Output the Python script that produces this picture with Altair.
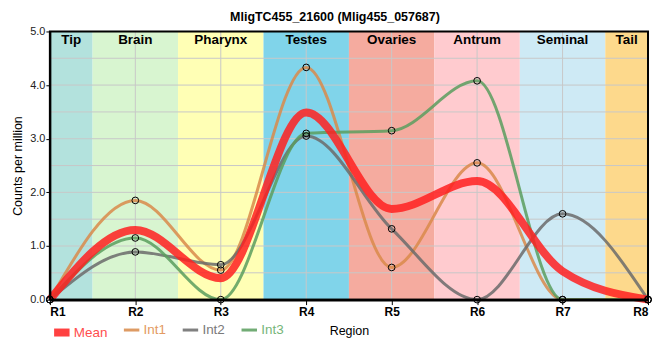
import json
import altair as alt
import pandas as pd

# ---- data ----
x_labels = ["R1", "R2", "R3", "R4", "R5", "R6", "R7", "R8"]
series_names = ["Mean", "Int1", "Int2", "Int3"]
mean_vals = [0.0, 1.30, 0.40, 3.49, 1.69, 2.21, 0.53, 0.0]
int1_vals = [0.0, 1.85, 0.55, 4.33, 0.60, 2.55, 0.0, 0.0]
int2_vals = [0.0, 0.89, 0.65, 3.05, 1.32, 0.0, 1.60, 0.0]
int3_vals = [0.0, 1.15, 0.0, 3.10, 3.15, 4.08, 0.0, 0.0]

tissues = ["Tip", "Brain", "Pharynx", "Testes", "Ovaries", "Antrum", "Seminal", "Tail"]
tissue_start = [0.0, 0.5, 1.5, 2.5, 3.5, 4.5, 5.5, 6.5]
tissue_end = [0.5, 1.5, 2.5, 3.5, 4.5, 5.5, 6.5, 7.0]
y_ticks = [0.0, 0.5, 1.0, 1.5, 2.0, 2.5, 3.0, 3.5, 4.0, 4.5, 5.0]

# ---- styles ----
band_colors = ["#b3e2dd", "#d8f5d0", "#ffffb5", "#80d4ea", "#f5ab9f", "#ffcbcf", "#ceeaf5", "#fdd98c"]
line_colors = ["#ff2020", "#d98a4a", "#6b6b6b", "#5a9e5e"]
line_widths = [8, 3, 3, 3]
W, H = 600, 269
FONT = "Liberation Sans, Arial, sans-serif"

rows = []
for name, vals in zip(series_names, [mean_vals, int1_vals, int2_vals, int3_vals]):
    for i, v in enumerate(vals):
        rows.append({"series": name, "x": i, "value": v})
df = pd.DataFrame(rows)

bands = pd.DataFrame({
    "tissue": tissues,
    "start": tissue_start,
    "end": tissue_end,
    "mid": [(a + b) / 2 for a, b in zip(tissue_start, tissue_end)],
})
xgrid = pd.DataFrame({"x": list(range(len(x_labels)))})
ygrid = pd.DataFrame({"y": y_ticks})

xscale = alt.Scale(domain=[0, len(x_labels) - 1], nice=False, zero=False)
yscale = alt.Scale(domain=[0, 5], nice=False)

label_expr = json.dumps(x_labels) + "[datum.value]"

x_axis = alt.Axis(
    values=list(range(len(x_labels))), labelExpr=label_expr, title="Region",
    grid=False, domainColor="black", domainWidth=3, tickColor="black", tickSize=5,
    labelFont=FONT, labelFontWeight="bold", labelFontSize=12, labelColor="black",
    labelPadding=2, titleFont=FONT, titleFontWeight="normal", titleFontSize=12.5,
    titleColor="black", titlePadding=7, zindex=1,
)
y_axis = alt.Axis(
    values=y_ticks, format=".1f", title="Counts per million", grid=False,
    domainColor="black", domainWidth=2, tickColor="black", tickSize=4,
    labelFont=FONT, labelFontSize=11, labelColor="#222", labelPadding=1,
    titleFont=FONT, titleFontWeight="normal", titleFontSize=12.5, titleColor="black",
    titlePadding=5, zindex=1,
)

band_layer = alt.Chart(bands).mark_rect(stroke=None).encode(
    x=alt.X("start:Q", scale=xscale, axis=x_axis),
    x2="end:Q",
    y=alt.Y("y0:Q", scale=yscale, axis=y_axis),
    y2="y1:Q",
    fill=alt.Fill("tissue:N", scale=alt.Scale(domain=tissues, range=band_colors), legend=None),
).transform_calculate(y0="0", y1="5")

band_text = alt.Chart(bands).mark_text(
    font=FONT, fontWeight="bold", fontSize=13.5, baseline="middle", color="black"
).encode(
    x=alt.X("mid:Q", scale=xscale),
    y=alt.value(9),
    text="tissue:N",
)

xgrid_layer = alt.Chart(xgrid).mark_rule(color="#c8c8c8", strokeWidth=1).encode(
    x=alt.X("x:Q", scale=xscale)
)
ygrid_layer = alt.Chart(ygrid).mark_rule(color="#c8c8c8", strokeWidth=1).encode(
    y=alt.Y("y:Q", scale=yscale)
)

legend = alt.Legend(
    orient="none", legendX=0, legendY=290, direction="horizontal", title=None,
    columns=4, gridAlign="none",
    symbolType="stroke", symbolSize=240, symbolOpacity=0.85,
    symbolStrokeWidth=alt.ExprRef("(datum.value === 'Mean' ? 8 : 3)"),
    labelFont=FONT, labelFontSize=13.5, labelOffset=0, columnPadding=10,
    labelColor=alt.ExprRef(
        "(datum.value === 'Mean' ? '#ff4d4d' : datum.value === 'Int1' ? '#e39a62' : "
        "datum.value === 'Int2' ? '#7a7a7a' : '#76b679')"
    ),
)

color_enc = alt.Color("series:N", scale=alt.Scale(domain=series_names, range=line_colors), legend=legend)
width_enc = alt.StrokeWidth(
    "series:N",
    scale=alt.Scale(type="ordinal", domain=series_names, range=line_widths),
    legend=None,
)

int_lines = alt.Chart(df).transform_filter("datum.series !== 'Mean'").mark_line(
    interpolate="monotone", opacity=0.85
).encode(
    x=alt.X("x:Q", scale=xscale),
    y=alt.Y("value:Q", scale=yscale),
    color=color_enc,
    strokeWidth=width_enc,
    order="x:Q",
)
mean_line = alt.Chart(df).transform_filter("datum.series === 'Mean'").mark_line(
    interpolate="monotone", opacity=0.85
).encode(
    x=alt.X("x:Q", scale=xscale),
    y=alt.Y("value:Q", scale=yscale),
    color=color_enc,
    strokeWidth=width_enc,
    order="x:Q",
)
points = alt.Chart(df).transform_filter("datum.series !== 'Mean'").mark_point(
    shape="circle", filled=False, stroke="black", strokeWidth=1, size=45, opacity=1
).encode(
    x=alt.X("x:Q", scale=xscale),
    y=alt.Y("value:Q", scale=yscale),
)

frame = alt.Chart(bands.head(1)).mark_rect(fill=None, stroke="black", strokeWidth=2).encode(
    x=alt.value(0), x2=alt.value(W), y=alt.value(0), y2=alt.value(H)
)

chart = alt.layer(
    band_layer, xgrid_layer, ygrid_layer, band_text, int_lines, mean_line, points, frame
).properties(
    width=W, height=H,
    title=alt.TitleParams(
        "MligTC455_21600 (Mlig455_057687)", font=FONT, fontSize=12.5, fontWeight="bold",
        color="black", anchor="middle", offset=2, dx=-14,
    ),
    autosize=alt.AutoSizeParams(type="none"),
    padding={"left": 42, "top": 23, "right": 4, "bottom": 50},
).configure_view(stroke=None).configure(background="white")

chart.save("out.html", embed_options={"renderer": "svg", "actions": False})
